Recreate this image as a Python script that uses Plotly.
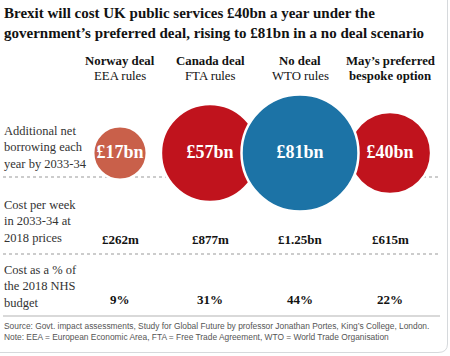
import plotly.graph_objects as go

# ---- data ----
scenarios = ["Norway deal", "Canada deal", "No deal", "May\u2019s preferred"]
subtitles = ["EEA rules", "FTA rules", "WTO rules", "bespoke option"]
borrowing_bn = [17, 57, 81, 40]
borrowing_labels = ["\u00a317bn", "\u00a357bn", "\u00a381bn", "\u00a340bn"]
weekly_cost_labels = ["\u00a3262m", "\u00a3877m", "\u00a31.25bn", "\u00a3615m"]
nhs_pct = [9, 31, 44, 22]
colors = ["#c9604a", "#c0131d", "#1c73a6", "#c0131d"]

W, H = 450, 356
SERIF = "Liberation Serif"
SANS = "Liberation Sans"

fig = go.Figure()

# draw order: red/orange first, blue on top
order = [0, 1, 3, 2]
R_MAX = 58.5
sizeref = 2 * max(borrowing_bn) / (2 * R_MAX) ** 2
fig.add_trace(go.Scatter(
    x=order,
    y=[153] * len(order),
    mode="markers+text",
    marker=dict(size=[borrowing_bn[i] for i in order], sizemode="area", sizeref=sizeref,
                color=[colors[i] for i in order], opacity=1,
                line=dict(color="white", width=2.5)),
    text=["<b>" + borrowing_labels[i] + "</b>" for i in order],
    textposition="middle center",
    textfont=dict(family=SERIF, size=18, color="white"),
    hoverinfo="skip", showlegend=False,
))

# column headers
for i, (s, sub) in enumerate(zip(scenarios, subtitles)):
    subtxt = "<b>" + sub + "</b>" if i == 3 else sub
    fig.add_annotation(x=i, y=61, xref="x", yref="y", text="<b>" + s + "</b>",
                       showarrow=False, font=dict(family=SERIF, size=12.8, color="#121212"))
    fig.add_annotation(x=i, y=76, xref="x", yref="y", text=subtxt,
                       showarrow=False, font=dict(family=SERIF, size=12.8, color="#121212"))

# weekly cost row
for i, t in enumerate(weekly_cost_labels):
    fig.add_annotation(x=i, y=239, xref="x", yref="y", text="<b>" + t + "</b>",
                       showarrow=False, font=dict(family=SERIF, size=13, color="#121212"))
# NHS row
for i, p in enumerate(nhs_pct):
    fig.add_annotation(x=i, y=299, xref="x", yref="y", text="<b>%d%%</b>" % p,
                       showarrow=False, font=dict(family=SERIF, size=13, color="#121212"))

# title
fig.add_annotation(x=2 / W, y=3, xref="paper", yref="y", xanchor="left", yanchor="top", align="left",
                   text="<b>Brexit will cost UK public services \u00a340bn a year under the<br>"
                        "government\u2019s preferred deal, rising to \u00a381bn in a no deal scenario</b>",
                   showarrow=False, font=dict(family=SERIF, size=15, color="#121212"))

# row labels
row_labels = [("Additional net<br>borrowing each<br>year by 2033-34", 147),
              ("Cost per week<br>in 2033-34 at<br>2018 prices", 221),
              ("Cost as a % of<br>the 2018 NHS<br>budget", 286)]
for t, yc in row_labels:
    fig.add_annotation(x=2 / W, y=yc, xref="paper", yref="y", xanchor="left", yanchor="middle",
                       align="left", text=t, showarrow=False,
                       font=dict(family=SERIF, size=12.5, color="#333333"))

# footer
fig.add_annotation(x=2 / W, y=319, xref="paper", yref="y", xanchor="left", yanchor="top", align="left",
                   text="Source: Govt. impact assessments, Study for Global Future by professor Jonathan Portes, King\u2019s College, London.<br>"
                        "Note: EEA = European Economic Area, FTA = Free Trade Agreement, WTO = World Trade Organisation",
                   showarrow=False, font=dict(family=SANS, size=8.4, color="#555555"))

# separators (behind circles)
for yy in (177, 254):
    fig.add_shape(type="line", xref="paper", yref="y", x0=3 / W, x1=440 / W, y0=yy, y1=yy,
                  line=dict(color="#999999", width=1, dash="dot"), layer="below")
fig.add_shape(type="line", xref="paper", yref="y", x0=3 / W, x1=440 / W, y0=316, y1=316,
              line=dict(color="#cccccc", width=1.5), layer="below")

# card border, in paper coordinates
fig.add_shape(type="path", xref="paper", yref="paper",
              path="M %f,%f L %f,%f Q %f,%f %f,%f L %f,%f" % (
                  447.5 / W, 1.0, 447.5 / W, 12 / H, 447.5 / W, 3.5 / H, 438 / W, 3.5 / H, 0, 3.5 / H),
              line=dict(color="#d6d9dc", width=1))

fig.update_layout(
    width=W, height=H,
    margin=dict(l=0, r=0, t=0, b=0),
    paper_bgcolor="white", plot_bgcolor="rgba(0,0,0,0)",
    xaxis=dict(range=[-120 / 90, 330 / 90], visible=False, fixedrange=True),
    yaxis=dict(range=[H, 0], visible=False, fixedrange=True),
    showlegend=False,
    hovermode=False,
)

fig.write_html("out.html", config={"displayModeBar": False, "staticPlot": True},
               post_script="document.body.style.margin='0';")
